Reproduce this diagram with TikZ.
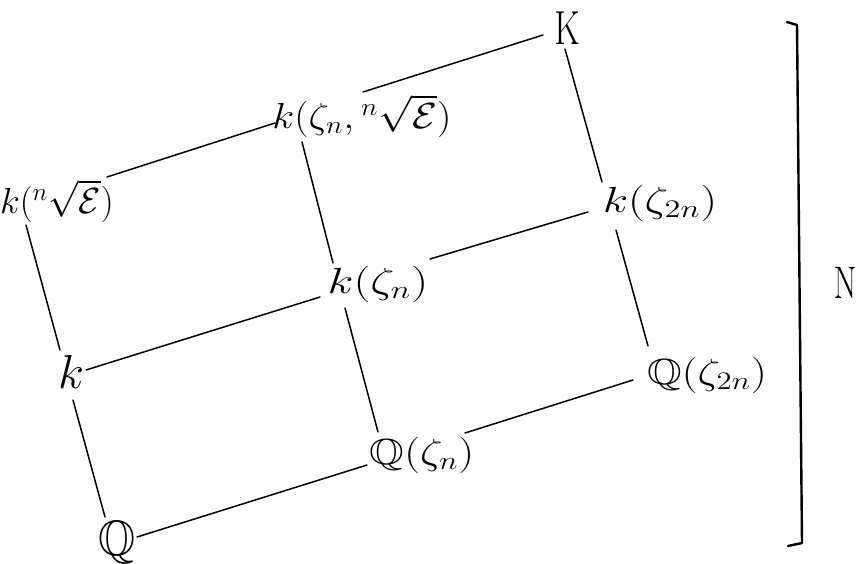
\documentclass[tikz,border=0pt]{standalone}
\usepackage{graphicx}
\usepackage{amsmath,amssymb}
\newcommand{\bigtxt}[3]{\scalebox{#1}[#2]{\huge #3}}
\begin{document}
\begin{tikzpicture}[x=1pt,y=-1pt,
  lbl/.style={inner sep=0pt},
  edge/.style={line width=1.5pt,line cap=round},
  brace/.style={line width=2.4pt,line cap=round,line join=round}]
\useasboundingbox (0,0) rectangle (861,564);
\node[lbl] (K) at (567,28) {\bigtxt{1.7}{2.3}{$\mathrm{K}$}};
\node[lbl] (kzE) at (362,116) {\bigtxt{1.95}{1.75}{$k(\zeta_n,{}^{n}\sqrt{\mathcal{E}})$}};
\node[lbl] (kE) at (57,201) {\bigtxt{1.75}{1.75}{$k({}^{n}\sqrt{\mathcal{E}})$}};
\node[lbl] (kz2n) at (660,203) {\bigtxt{2.25}{1.75}{$k(\zeta_{2n})$}};
\node[lbl] (kz) at (378,284) {\bigtxt{2.3}{1.75}{$k(\zeta_n)$}};
\node[lbl] (k) at (71,372) {\bigtxt{2.3}{2.3}{$k$}};
\node[lbl] (Qz2n) at (707,375) {\bigtxt{2.15}{1.75}{$\mathbb{Q}(\zeta_{2n})$}};
\node[lbl] (Qz) at (422,455) {\bigtxt{2.15}{1.75}{$\mathbb{Q}(\zeta_n)$}};
\node[lbl] (Q) at (117,542) {\bigtxt{2.3}{2.4}{$\mathbb{Q}$}};
\node[lbl] (N) at (845,283) {\bigtxt{1.6}{2.2}{$\mathrm{N}$}};
\draw[edge] ([shift={(-24,7)}]K.center) -- ([shift={(1,-24)}]kzE.center);
\draw[edge] ([shift={(-2,21)}]K.center) -- ([shift={(-58,-21)}]kz2n.center);
\draw[edge] ([shift={(50,-24)}]kE.center) -- ([shift={(-87,7)}]kzE.center);
\draw[edge] ([shift={(-60,26)}]kzE.center) -- ([shift={(-45,-21)}]kz.center);
\draw[edge] ([shift={(52,-25)}]kz.center) -- ([shift={(-72,9)}]kz2n.center);
\draw[edge] ([shift={(-44,27)}]kz2n.center) -- ([shift={(-59,-29)}]Qz2n.center);
\draw[edge] ([shift={(-31,24)}]kE.center) -- ([shift={(-11,-22)}]k.center);
\draw[edge] ([shift={(15,-2)}]k.center) -- ([shift={(-58,13)}]kz.center);
\draw[edge] ([shift={(-33,24)}]kz.center) -- ([shift={(-44,-23)}]Qz.center);
\draw[edge] ([shift={(2,28)}]k.center) -- ([shift={(-12,-25)}]Q.center);
\draw[edge] ([shift={(20,-5)}]Q.center) -- ([shift={(-55,10)}]Qz.center);
\draw[edge] ([shift={(43,-22)}]Qz.center) -- ([shift={(-74,5)}]Qz2n.center);
\draw[brace] (787,22) -- (797,25) -- (802,543) -- (788,546);
\end{tikzpicture}
\end{document}
